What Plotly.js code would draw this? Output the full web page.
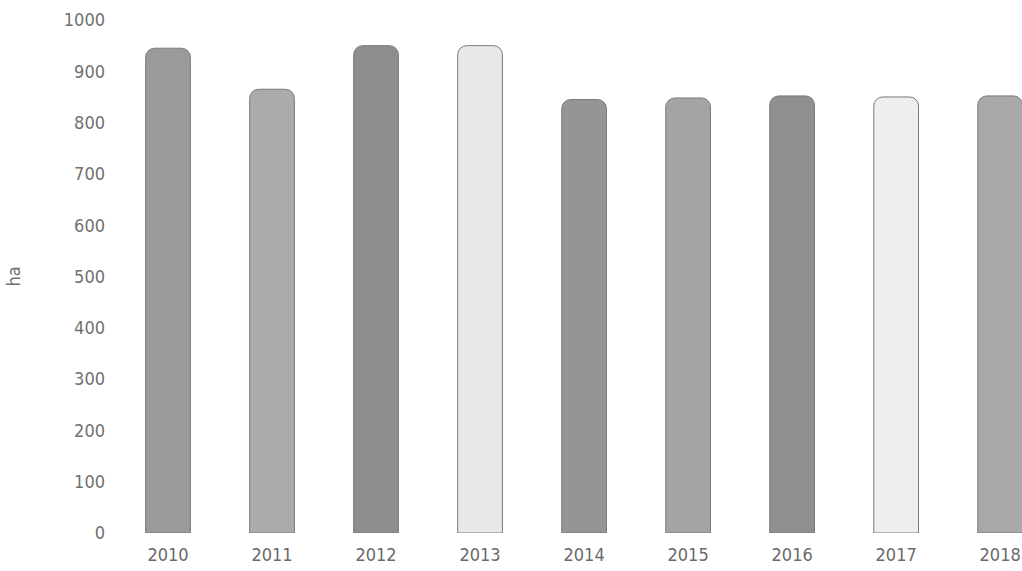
<!DOCTYPE html>
<html>
<head>
<meta charset="utf-8">
<script src="https://cdn.plot.ly/plotly-3.0.1.min.js"></script>
<style>html,body{margin:0;padding:0;background:#fff;}#chart{width:1022px;height:571px;}</style>
</head>
<body>
<div id="chart"></div>
<script>
const years = ["2010","2011","2012","2013","2014","2015","2016","2017","2018"];
const hectares = [945, 865, 950, 950, 845, 848, 852, 850, 852];
const barColors = ["#9a9a9a","#ababab","#8e8e8e","#e8e8e8","#959595","#a4a4a4","#8f8f8f","#eeeeee","#a8a8a8"];
const yTicks = [0,100,200,300,400,500,600,700,800,900,1000];
const yTickLabels = ["0","100","200","300","400","500","600","700","800","900","1000"];

const font = "DejaVu Sans Condensed, Liberation Sans Narrow, Arial Narrow, sans-serif";

Plotly.newPlot("chart", [{
  type: "bar",
  x: years,
  y: hectares,
  marker: {color: barColors, line: {color: "#7a7a7a", width: 1}, cornerradius: 9},
  hoverinfo: "x+y"
}], {
  width: 1022, height: 571,
  margin: {l: 116, r: 0, t: 20, b: 38},
  paper_bgcolor: "#ffffff",
  plot_bgcolor: "#ffffff",
  bargap: 0.57,
  showlegend: false,
  xaxis: {
    type: "category",
    range: [-0.5, 8.21],
    showgrid: false, zeroline: false, showline: false,
    ticks: "", ticklabelstandoff: 9,
    tickfont: {family: font, size: 18, color: "#6a6a6a"}
  },
  yaxis: {
    range: [0, 1000],
    tickvals: yTicks, ticktext: yTickLabels,
    showgrid: false, zeroline: false, showline: false,
    ticks: "", ticklabelstandoff: 10,
    tickfont: {family: font, size: 18, color: "#707070"},
    title: {text: "ha", font: {family: font, size: 18, color: "#707070"}, standoff: 38}
  }
}, {displayModeBar: false});
</script>
</body>
</html>
